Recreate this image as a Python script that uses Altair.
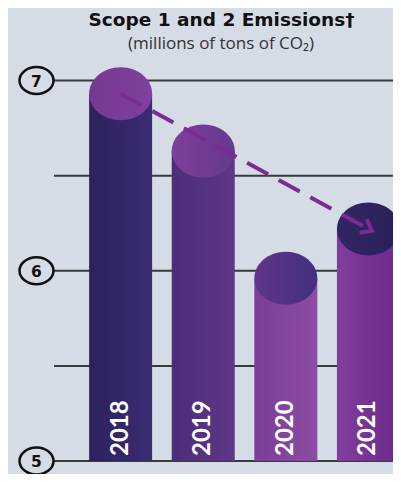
import altair as alt
import pandas as pd

# ---- data ----
years = [2018, 2019, 2020, 2021]
emissions = [6.93, 6.63, 5.96, 6.22]
year_labels = ["2018", "2019", "2020", "2021"]
grid_values = [5.0, 5.5, 6.0, 6.5, 7.0]
tick_values = [5, 6, 7]
tick_labels = ["5", "6", "7"]
base_value = 5.0
arrow_years = [2018, 2021]
title_text = "Scope 1 and 2 Emissions\u2020"
subtitle_text = "(millions of tons of CO\u2082)"

# ---- styles ----
BG = "#d5dce6"
body_colors = {
    2018: ["#2b225e", "#3c2b72"],
    2019: ["#4a2e78", "#603688"],
    2020: ["#7b3e97", "#8c4ca4"],
    2021: ["#803e9c", "#6a2a8b"],
}
top_colors = {
    2018: ["#773894", "#7f419b"],
    2019: ["#7d409b", "#66388c"],
    2020: ["#5f358a", "#43307f"],
    2021: ["#332565", "#2a2158"],
}
ARROW = "#7b2c93"

df = pd.DataFrame({"year": years, "value": emissions, "label": year_labels,
                   "base": [base_value] * len(years)})
grid_df = pd.DataFrame({"v": grid_values})
tick_df = pd.DataFrame({"v": tick_values, "label": tick_labels})

x_scale = alt.Scale(domain=[2016.6969, 2021.2370], nice=False, zero=False)
y_scale = alt.Scale(domain=[4.93167, 7.38108], nice=False, zero=False)

X = alt.X("year:Q", scale=x_scale, axis=None)


def grad(c):
    return alt.Gradient(gradient="linear", x1=0, x2=1, y1=0, y2=0,
                        stops=[alt.GradientStop(offset=0, color=c[0]),
                               alt.GradientStop(offset=1, color=c[1])])


ellipse_tick = "M -1 0 A 1 0.794 0 1 1 1 0 A 1 0.794 0 1 1 -1 0 Z"
ellipse_top = "M -1 0 A 1 0.841 0 1 1 1 0 A 1 0.841 0 1 1 -1 0 Z"
chevron = "M -0.6 -0.75 L 0.4 0 L -0.6 0.75"

grid = alt.Chart(grid_df).mark_rule(color="#3a3a3a", strokeWidth=2).encode(
    y=alt.Y("v:Q", scale=y_scale, axis=None),
    x=alt.value(46), x2=alt.value(385))

tick_ell = alt.Chart(tick_df).mark_point(
    shape=ellipse_tick, size=1156, filled=True, fill=BG, stroke="#111111",
    strokeWidth=2.5, opacity=1).encode(
    x=alt.value(28.5), y=alt.Y("v:Q", scale=y_scale, axis=None))

tick_txt = alt.Chart(tick_df).mark_text(
    font="DejaVu Sans", fontWeight="bold", fontSize=15.5, color="#111111",
    baseline="middle", dy=1).encode(
    x=alt.value(28.5), y=alt.Y("v:Q", scale=y_scale, axis=None), text="label:N")

layers = [grid, tick_ell, tick_txt]
for yr in years:
    bar = alt.Chart(df).transform_filter(alt.datum.year == yr).mark_bar(
        size=63, fill=grad(body_colors[yr]), opacity=1).encode(
        x=X, y=alt.Y("value:Q", scale=y_scale, axis=None), y2="base:Q")
    top = alt.Chart(df).transform_filter(alt.datum.year == yr).mark_point(
        shape=ellipse_top, size=3969, filled=True, fill=grad(top_colors[yr]),
        strokeWidth=0, opacity=1).encode(
        x=X, y=alt.Y("value:Q", scale=y_scale, axis=None))
    layers += [bar, top]

arrow_line = alt.Chart(df).transform_filter(
    alt.FieldOneOfPredicate(field="year", oneOf=arrow_years)).mark_line(
    color=ARROW, strokeWidth=4, strokeDash=[24, 12]).encode(
    x=X, y=alt.Y("value:Q", scale=y_scale, axis=None), order="year:Q")

arrow_head = alt.Chart(df).transform_filter(alt.datum.year == arrow_years[-1]).mark_point(
    shape=chevron, size=400, filled=False, stroke=ARROW, strokeWidth=4,
    angle=28, opacity=1, strokeJoin="miter").encode(
    x=X, y=alt.Y("value:Q", scale=y_scale, axis=None))

year_txt = alt.Chart(df).mark_text(
    angle=270, align="left", baseline="middle", dx=5, font="Lato",
    fontWeight="bold", fontSize=24, color="white").encode(
    x=X, y=alt.Y("base:Q", scale=y_scale, axis=None), text="label:N")

title = alt.Chart(pd.DataFrame({"t": [title_text]})).mark_text(
    font="DejaVu Sans", fontWeight="bold", fontSize=18.5, color="#111111",
    align="center", baseline="alphabetic").encode(
    x=alt.value(213.5), y=alt.value(17.5), text="t:N")

subtitle = alt.Chart(pd.DataFrame({"t": [subtitle_text]})).mark_text(
    font="Open Sans", fontSize=17, color="#333333",
    align="center", baseline="alphabetic").encode(
    x=alt.value(213), y=alt.value(41), text="t:N")

layers += [arrow_line, arrow_head, year_txt, title, subtitle]

chart = alt.layer(*layers).properties(
    width=385, height=466, padding=0,
    autosize=alt.AutoSizeParams(type="none"), background=BG
).configure_view(strokeWidth=0)

chart.save("out.html", embed_options={"renderer": "svg", "actions": False})
